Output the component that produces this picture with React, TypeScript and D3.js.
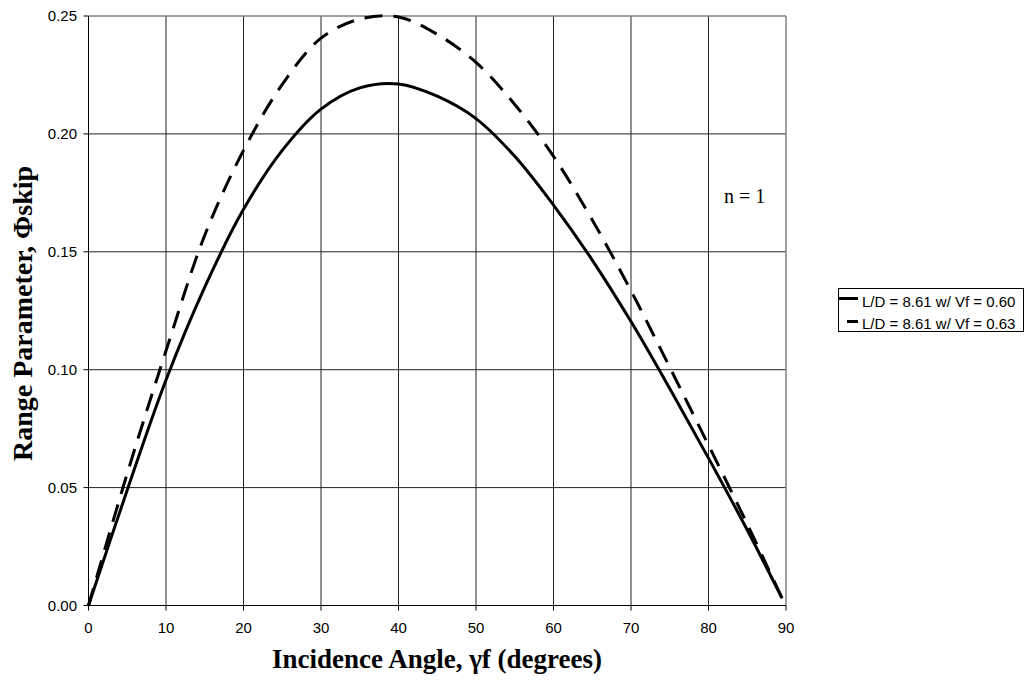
import React from "react";
import * as d3 from "d3";

const xTicks = [0, 10, 20, 30, 40, 50, 60, 70, 80, 90];
const yTicks = [0, 0.05, 0.1, 0.15, 0.2, 0.25];

const angles060 = [0, 5, 10, 15, 20, 25, 30, 35, 40, 45, 50, 55, 60, 65, 70, 75, 80, 85, 89.5];
const phi060 = [0, 0.049, 0.0956, 0.135, 0.168, 0.193, 0.2105, 0.2195, 0.2212, 0.216, 0.2065, 0.1905, 0.1698, 0.1465, 0.1204, 0.092, 0.0625, 0.032, 0.003];

const angles063 = [0, 5, 10, 15, 20, 25, 30, 35, 40, 45, 50, 55, 60, 65, 70, 75, 80, 85, 89.5];
const phi063 = [0, 0.056, 0.108, 0.157, 0.193, 0.221, 0.2406, 0.2487, 0.2496, 0.2422, 0.2303, 0.2125, 0.1905, 0.1635, 0.1335, 0.101, 0.068, 0.0345, 0.003];

const seriesLabels = ["L/D = 8.61 w/ Vf = 0.60", "L/D = 8.61 w/ Vf = 0.63"];

export default function App() {
  const W = 1028, H = 682;
  const x = d3.scaleLinear().domain([0, 90]).range([88.5, 786]);
  const y = d3.scaleLinear().domain([0, 0.25]).range([605.5, 16]);
  const line = d3
    .line<[number, number]>()
    .x((d) => x(d[0]))
    .y((d) => y(d[1]))
    .curve(d3.curveCatmullRom.alpha(0.5));
  const s1 = angles060.map((a, i) => [a, phi060[i]] as [number, number]);
  const s2 = angles063.map((a, i) => [a, phi063[i]] as [number, number]);
  const sans = "Arial, 'Liberation Sans', sans-serif";
  const serif = "'Times New Roman', 'Liberation Serif', serif";
  return (
    <svg width={W} height={H} style={{ position: "absolute", left: 0, top: 0, background: "#fff" }}>
      {/* gridlines */}
      {xTicks.slice(1, -1).map((t) => (
        <line key={"gx" + t} x1={x(t)} x2={x(t)} y1={y(0.25)} y2={y(0)} stroke="#222" strokeWidth={1} />
      ))}
      {yTicks.slice(1, -1).map((t) => (
        <line key={"gy" + t} x1={x(0)} x2={x(90)} y1={y(t)} y2={y(t)} stroke="#222" strokeWidth={1} />
      ))}
      {/* plot border */}
      <line x1={x(0)} x2={x(90)} y1={y(0.25)} y2={y(0.25)} stroke="#808080" strokeWidth={1.5} />
      <line x1={x(90)} x2={x(90)} y1={y(0.25)} y2={y(0)} stroke="#808080" strokeWidth={1.5} />
      {/* axes */}
      <line x1={x(0)} x2={x(0)} y1={y(0.25)} y2={y(0)} stroke="#000" strokeWidth={1} />
      <line x1={x(0)} x2={x(90)} y1={y(0)} y2={y(0)} stroke="#000" strokeWidth={1} />
      {yTicks.map((t) => (
        <g key={"yt" + t}>
          <line x1={x(0) - 5} x2={x(0)} y1={y(t)} y2={y(t)} stroke="#000" />
          <text x={77} y={y(t)} dy="0.35em" textAnchor="end" fontFamily={sans} fontSize={15} fill="#000">
            {t.toFixed(2)}
          </text>
        </g>
      ))}
      {xTicks.map((t) => (
        <g key={"xt" + t}>
          <line x1={x(t)} x2={x(t)} y1={y(0)} y2={y(0) + 5} stroke="#000" />
          <text x={x(t)} y={633} textAnchor="middle" fontFamily={sans} fontSize={15} fill="#000">
            {t}
          </text>
        </g>
      ))}
      {/* series */}
      <path d={line(s2) || ""} fill="none" stroke="#000" strokeWidth={3} strokeDasharray="18,11" />
      <path d={line(s1) || ""} fill="none" stroke="#000" strokeWidth={3} />
      {/* annotation */}
      <text x={724} y={202.5} fontFamily={serif} fontSize={20} fill="#000">
        n = 1
      </text>
      {/* axis titles */}
      <text x={437} y={668} textAnchor="middle" fontFamily={serif} fontWeight="bold" fontSize={27} fill="#000">
        Incidence Angle, γf (degrees)
      </text>
      <text
        transform={`translate(32, 313.5) rotate(-90)`}
        textAnchor="middle"
        fontFamily={serif}
        fontWeight="bold"
        fontSize={28}
        fill="#000"
      >
        Range Parameter, Φskip
      </text>
      {/* legend */}
      <rect x={838.5} y={288.5} width={185} height={43} fill="#fff" stroke="#000" strokeWidth={1} />
      <line x1={839} x2={858} y1={298.5} y2={298.5} stroke="#000" strokeWidth={3} />
      <text x={862} y={306.5} fontFamily={sans} fontSize={15} fill="#000">
        {seriesLabels[0]}
      </text>
      <line x1={847} x2={858} y1={321.5} y2={321.5} stroke="#000" strokeWidth={3} />
      <text x={862} y={329} fontFamily={sans} fontSize={15} fill="#000">
        {seriesLabels[1]}
      </text>
    </svg>
  );
}
